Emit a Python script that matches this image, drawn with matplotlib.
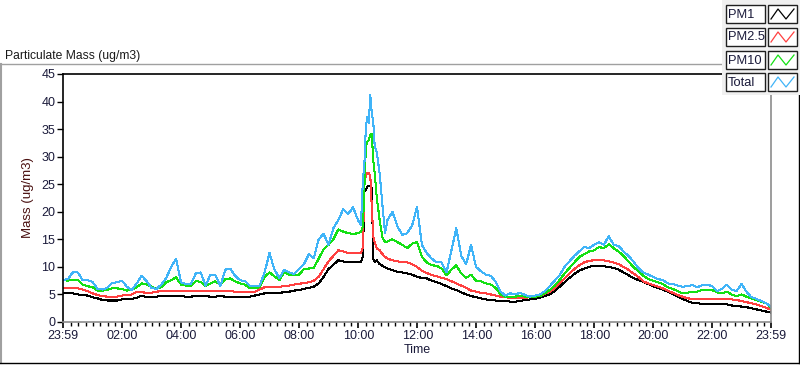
import matplotlib
matplotlib.use("Agg")
import matplotlib.pyplot as plt
from matplotlib.lines import Line2D
from matplotlib.patches import Rectangle
from matplotlib.ticker import FixedLocator

plt.rcParams['font.family'] = ['Liberation Sans', 'DejaVu Sans']

# time in minutes after 23:59 of the previous day
times = (list(range(0, 601, 10))
         + [606, 610, 613, 616, 619, 622, 625, 628, 631, 634, 638, 644, 650, 655, 660]
         + list(range(670, 1441, 10)))

pm1 = [5.3, 5.3, 5.2, 5.0, 4.9, 4.8, 4.5, 4.3, 4.0, 3.9,
       3.9, 3.9, 4.1, 4.2, 4.2, 4.4, 4.8, 4.5, 4.5, 4.6,
       4.7, 4.7, 4.8, 4.7, 4.7, 4.6, 4.6, 4.7, 4.7, 4.7,
       4.6, 4.6, 4.7, 4.6, 4.5, 4.6, 4.6, 4.6, 4.6, 4.8,
       5.0, 5.2, 5.2, 5.3, 5.3, 5.4, 5.5, 5.7, 5.8, 6.0,
       6.2, 6.4, 7.0, 8.2, 9.6, 10.4, 11.2, 11.0, 10.8, 10.8,
       10.8,
       10.8, 12.0, 23.6, 24.0, 24.6, 24.6, 24.6, 24.4, 11.5, 10.9, 11.2, 10.5, 10.2, 9.9, 9.7,
       9.4, 9.1, 9.0, 8.8, 8.6, 8.2, 8.0, 7.9, 7.5, 7.2,
       6.9, 6.5, 6.1, 5.8, 5.4, 5.0, 4.7, 4.5, 4.3, 4.1,
       4.0, 3.9, 3.8, 3.8, 3.7, 3.7, 3.8, 4.0, 4.1, 4.2,
       4.4, 4.7, 5.0, 5.6, 6.4, 7.2, 8.0, 8.7, 9.3, 9.7,
       10.0, 10.2, 10.2, 10.1, 10.0, 9.8, 9.5, 9.0, 8.5, 8.0,
       7.6, 7.3, 6.9, 6.5, 6.2, 5.9, 5.5, 5.1, 4.6, 4.2,
       3.8, 3.5, 3.4, 3.3, 3.3, 3.3, 3.3, 3.3, 3.2, 3.0,
       2.9, 2.8, 2.7, 2.5, 2.3, 2.1, 1.9, 1.7]

pm25 = [6.1, 6.1, 6.2, 6.1, 5.9, 5.6, 5.2, 4.9, 4.7, 4.6,
        4.6, 4.6, 4.8, 4.9, 5.0, 5.5, 5.4, 5.3, 5.3, 5.5,
        5.6, 5.6, 5.7, 5.7, 5.6, 5.6, 5.7, 5.7, 5.7, 5.6,
        5.7, 5.6, 5.6, 5.6, 5.6, 5.5, 5.5, 5.4, 5.4, 5.5,
        5.9, 6.3, 6.3, 6.4, 6.4, 6.5, 6.6, 6.8, 6.9, 7.1,
        7.2, 7.5, 8.2, 9.6, 11.0, 12.0, 13.0, 12.8, 12.5, 12.5,
        12.5,
        12.5, 13.5, 25.8, 26.5, 27.0, 27.0, 26.5, 21.0, 15.5, 14.5, 13.4, 13.0, 12.3, 11.8, 11.5,
        11.2, 11.0, 10.9, 10.8, 10.5, 10.0, 9.3, 8.9, 8.5, 8.3,
        8.0, 7.8, 7.4, 7.0, 6.6, 6.2, 5.7, 5.5, 5.3, 5.2,
        5.0, 4.8, 4.6, 4.5, 4.4, 4.3, 4.3, 4.4, 4.5, 4.6,
        4.8, 5.1, 5.5, 6.1, 7.0, 7.9, 8.8, 9.6, 10.3, 10.8,
        11.1, 11.2, 11.3, 11.2, 11.0, 10.8, 10.5, 10.0, 9.5, 8.8,
        8.2, 7.4, 7.0, 6.7, 6.4, 6.1, 5.7, 5.3, 4.9, 4.6,
        4.3, 4.2, 4.2, 4.2, 4.2, 4.2, 4.2, 4.2, 4.2, 4.1,
        4.0, 3.8, 3.6, 3.4, 3.2, 2.9, 2.6, 2.2]

pm10 = [7.6, 7.5, 7.7, 7.7, 6.8, 6.5, 6.3, 5.7, 5.7, 5.8,
        6.1, 6.1, 6.0, 5.7, 5.9, 6.3, 7.0, 6.8, 6.4, 6.0,
        6.3, 7.2, 7.6, 8.1, 6.8, 6.6, 6.6, 7.4, 7.3, 6.5,
        7.0, 7.4, 6.7, 7.8, 7.9, 7.4, 7.0, 6.8, 6.1, 6.1,
        6.3, 8.2, 9.0, 8.3, 7.6, 9.0, 8.6, 8.5, 8.6, 9.6,
        9.7, 9.8, 11.5, 13.2, 14.0, 15.0, 16.8, 16.4, 16.1, 16.0,
        16.1,
        16.4, 17.3, 24.6, 31.8, 32.7, 33.0, 33.9, 34.2, 29.4, 27.0, 22.7, 18.5, 15.2, 14.6, 14.6,
        15.0, 14.5, 14.0, 13.4, 14.2, 14.5, 11.8, 10.8, 10.3, 10.2,
        9.7, 8.5, 9.5, 10.3, 8.8, 8.0, 8.6, 7.5, 7.4, 7.0,
        6.8, 6.2, 5.0, 4.5, 4.6, 4.6, 4.8, 4.6, 4.5, 4.6,
        4.7, 5.2, 5.8, 6.6, 7.6, 8.8, 9.8, 10.8, 11.8, 12.3,
        12.8, 13.0, 13.6, 13.4, 14.1, 13.4, 12.8, 12.0, 11.0, 10.0,
        9.2, 8.4, 7.8, 7.5, 7.2, 6.9, 6.3, 6.0, 5.6, 5.2,
        5.3, 5.5, 5.5, 5.8, 5.8, 5.8, 5.4, 5.2, 5.5, 5.0,
        4.7, 5.0, 4.6, 4.3, 4.0, 3.7, 3.4, 2.6]

total = [7.6, 7.8, 9.0, 9.0, 7.6, 7.6, 7.3, 6.0, 5.9, 6.2,
         7.1, 7.2, 7.5, 6.4, 5.8, 7.0, 8.4, 7.4, 6.2, 6.0,
         6.8, 8.0, 10.0, 11.5, 7.2, 6.9, 6.9, 8.8, 9.0, 6.6,
         8.6, 8.5, 6.5, 9.5, 9.7, 8.4, 7.6, 7.4, 6.6, 6.5,
         6.6, 9.0, 12.5, 9.5, 8.0, 9.5, 9.0, 8.7, 9.6, 10.5,
         12.3, 11.6, 15.0, 16.0, 14.0, 17.0, 18.5, 20.5, 19.6, 20.8,
         18.5,
         17.6, 25.8, 28.8, 35.4, 37.2, 36.1, 41.2, 37.9, 36.4, 31.8, 30.9, 27.0, 20.9, 16.1, 18.5,
         20.0, 17.4, 15.8, 16.1, 17.5, 20.9, 14.0, 12.5, 11.5, 10.8,
         10.8, 9.0, 13.0, 17.0, 12.0, 10.5, 14.0, 10.0, 9.2, 8.6,
         8.4, 7.3, 5.5, 4.8, 5.2, 5.0, 5.3, 4.9, 4.6, 4.8,
         5.0, 5.6, 6.5, 7.5, 8.5, 10.0, 11.0, 12.0, 12.8, 13.6,
         13.4, 14.0, 14.5, 14.0, 15.6, 14.0, 13.8, 12.8, 12.0, 11.0,
         9.8, 9.0, 8.6, 8.2, 7.8, 7.6, 7.0, 6.9, 6.6, 6.4,
         6.5, 6.7, 6.3, 6.7, 6.8, 6.5, 5.6, 6.0, 6.8, 5.9,
         5.6, 6.9, 5.5, 4.5, 4.2, 3.8, 3.4, 2.8]

series_names = ["PM1", "PM2.5", "PM10", "Total"]
series_colors = ["#000000", "#ff4040", "#14e014", "#40b4f8"]

tick_pos = [0, 121, 241, 361, 481, 601, 721, 841, 961, 1081, 1201, 1321, 1440]
tick_labels = ["23:59", "02:00", "04:00", "06:00", "08:00", "10:00", "12:00",
               "14:00", "16:00", "18:00", "20:00", "22:00", "23:59"]

W, H = 800, 365
fig = plt.figure(figsize=(W / 100, H / 100), dpi=100)

def fx(px):
    return px / W

def fy(py):
    return 1 - py / H

ax = fig.add_axes([fx(63), fy(322), fx(771) - fx(63), fy(74) - fy(322)])
for vals, col in zip([pm1, pm25, pm10, total], series_colors):
    ax.plot(times, vals, color=col, lw=0.75, antialiased=False)

ax.set_xlim(0, 1440)
ax.set_ylim(0, 45)
ax.set_yticks(range(0, 46, 5))
ax.set_xticks(tick_pos)
ax.set_xticklabels(tick_labels)
ax.xaxis.set_minor_locator(FixedLocator([1 + 15 * k for k in range(96)
                                         if (1 + 15 * k) % 120 != 1]))
ax.tick_params(axis='both', labelsize=9, direction='out', width=1)
ax.tick_params(axis='x', which='major', length=4, pad=2, width=1.2)
ax.tick_params(axis='x', which='minor', length=3, width=1)
ax.tick_params(axis='y', length=4, pad=1.5)
for lbl in ax.get_xticklabels() + ax.get_yticklabels():
    lbl.set_color('#1a1a3a')

ax.spines['left'].set_color('black')
ax.spines['top'].set_color('black')
ax.spines['right'].set_color('#8c8c8c')
ax.spines['bottom'].set_color('#8c8c8c')
for s in ax.spines.values():
    s.set_linewidth(1.2)

ax.set_xlabel("Time", fontsize=9, color='#1a1a3a', labelpad=1)
ax.set_ylabel("Mass (ug/m3)", fontsize=9.5, color='#4a1010', labelpad=5)

# title and outer frame
fig.text(fx(5), fy(56), "Particulate Mass (ug/m3)", fontsize=8.7, color='#1a1a1a',
         ha='left', va='center')
fig.add_artist(Line2D([fx(0), fx(799)], [fy(63.5), fy(63.5)], color='#a0a0a0', lw=1))
fig.add_artist(Line2D([fx(1), fx(1)], [fy(63.5), fy(363)], color='#a0a0a0', lw=1.5))
fig.add_artist(Line2D([fx(0), fx(799)], [fy(363), fy(363)], color='black', lw=1))
fig.add_artist(Line2D([fx(799), fx(799)], [fy(63.5), fy(363)], color='black', lw=1))

# legend panel (LabVIEW style)
fig.add_artist(Rectangle((fx(722), fy(95)), fx(800) - fx(722), fy(0) - fy(95),
                         facecolor='#f0f0f0', edgecolor='none', zorder=5))
row_tops = [5, 28, 51, 73]
for name, col, top in zip(series_names, series_colors, row_tops):
    fig.add_artist(Rectangle((fx(726), fy(top + 18)), fx(765) - fx(726), fy(top) - fy(top + 18),
                             facecolor='white', edgecolor='#202020', lw=1, zorder=6))
    fig.text(fx(728), fy(top + 9.5), name, fontsize=9.3, color='#1a1a3a',
             ha='left', va='center', zorder=7)
    fig.add_artist(Rectangle((fx(768), fy(top + 18)), fx(797) - fx(768), fy(top) - fy(top + 18),
                             facecolor='white', edgecolor='#202020', lw=1, zorder=6))
    zx = [771, 778, 786, 794]
    zy = [top + 14, top + 4, top + 14, top + 4]
    fig.add_artist(Line2D([fx(v) for v in zx], [fy(v) for v in zy], color=col,
                          lw=0.9, zorder=7))

fig.savefig("out.png", dpi=100)
